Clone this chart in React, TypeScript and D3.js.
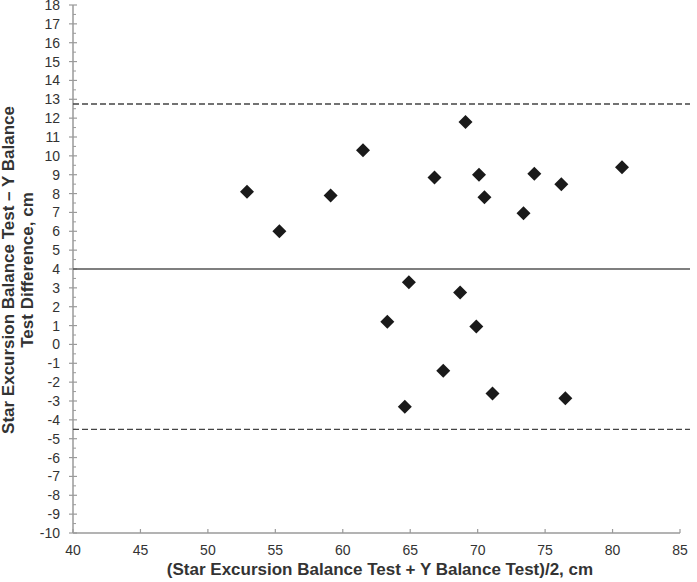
import React, { useEffect, useRef } from 'react'
import * as d3 from 'd3'

// (SEBT + YBT)/2 and SEBT - YBT, cm
const meanValues = [52.9, 55.3, 59.1, 61.5, 66.8, 69.1, 70.1, 70.5, 74.2, 76.2, 73.4, 80.7,
  64.9, 68.7, 63.3, 69.9, 67.45, 71.1, 76.5, 64.6]
const diffValues = [8.1, 6.0, 7.9, 10.3, 8.85, 11.8, 9.0, 7.8, 9.05, 8.5, 6.95, 9.4,
  3.3, 2.75, 1.2, 0.95, -1.4, -2.6, -2.85, -3.3]

const meanDiff = 4
const upperLimit = 12.75
const lowerLimit = -4.5

const xTicks = [40, 45, 50, 55, 60, 65, 70, 75, 80, 85]
const yTicks = d3.range(-10, 19, 1)
const yMinorTicks = d3.range(-9.5, 18, 1)

const W = 697, H = 582
const font = '"Liberation Sans", Arial, sans-serif'

export default function App() {
  const ref = useRef<SVGSVGElement>(null)

  useEffect(() => {
    const svg = d3.select(ref.current)
    svg.selectAll('*').remove()

    const x = d3.scaleLinear().domain([40, 85]).range([73, 680])
    const y = d3.scaleLinear().domain([-10, 18]).range([533, 5])
    const axisColor = '#9a9a9a'

    // y axis
    const gy = svg.append('g')
    gy.append('line')
      .attr('x1', x(40)).attr('x2', x(40))
      .attr('y1', y(-10)).attr('y2', y(18))
      .attr('stroke', axisColor).attr('stroke-width', 1.5)
    gy.selectAll('line.major').data(yTicks).join('line')
      .attr('class', 'major')
      .attr('x1', x(40) - 4).attr('x2', x(40) + 4)
      .attr('y1', d => y(d)).attr('y2', d => y(d))
      .attr('stroke', axisColor).attr('stroke-width', 1.2)
    gy.selectAll('line.minor').data(yMinorTicks).join('line')
      .attr('class', 'minor')
      .attr('x1', x(40)).attr('x2', x(40) + 3)
      .attr('y1', d => y(d)).attr('y2', d => y(d))
      .attr('stroke', axisColor).attr('stroke-width', 1)
    gy.selectAll('text').data(yTicks).join('text')
      .attr('x', 60).attr('y', d => y(d))
      .attr('dy', '0.36em')
      .attr('text-anchor', 'end')
      .attr('font-family', font).attr('font-size', 14)
      .attr('fill', '#333')
      .text(d => d)

    // x axis
    const gx = svg.append('g')
    gx.append('line')
      .attr('x1', x(40)).attr('x2', x(85))
      .attr('y1', y(-10)).attr('y2', y(-10))
      .attr('stroke', axisColor).attr('stroke-width', 1.5)
    gx.selectAll('line.tick').data(xTicks).join('line')
      .attr('class', 'tick')
      .attr('x1', d => x(d)).attr('x2', d => x(d))
      .attr('y1', y(-10)).attr('y2', y(-10) - 4)
      .attr('stroke', axisColor).attr('stroke-width', 1.2)
    gx.selectAll('text').data(xTicks).join('text')
      .attr('x', d => x(d)).attr('y', 555)
      .attr('text-anchor', 'middle')
      .attr('font-family', font).attr('font-size', 14)
      .attr('fill', '#333')
      .text(d => d)

    // reference lines
    const lines = [
      { v: meanDiff, dash: null, color: '#555' },
      { v: upperLimit, dash: '6,3', color: '#444' },
      { v: lowerLimit, dash: '6,3', color: '#444' },
    ]
    svg.append('g').selectAll('line').data(lines).join('line')
      .attr('x1', x(40)).attr('x2', 690)
      .attr('y1', d => y(d.v)).attr('y2', d => y(d.v))
      .attr('stroke', d => d.color).attr('stroke-width', 1.3)
      .attr('stroke-dasharray', d => d.dash)

    // points
    const pts = meanValues.map((m, i) => ({ m, d: diffValues[i] }))
    const r = 7
    svg.append('g').selectAll('path').data(pts).join('path')
      .attr('transform', p => `translate(${x(p.m)},${y(p.d)})`)
      .attr('d', `M0,${-r}L${r},0L0,${r}L${-r},0Z`)
      .attr('fill', '#1a1a1a')

    // axis titles
    svg.append('text')
      .attr('x', 380).attr('y', 575)
      .attr('text-anchor', 'middle')
      .attr('font-family', font).attr('font-size', 17).attr('font-weight', 'bold')
      .attr('fill', '#333')
      .text('(Star Excursion Balance Test + Y Balance Test)/2, cm')

    const yl = svg.append('text')
      .attr('transform', 'rotate(-90)')
      .attr('text-anchor', 'middle')
      .attr('font-family', font).attr('font-size', 17).attr('font-weight', 'bold')
      .attr('fill', '#333')
    yl.append('tspan').attr('x', -270).attr('y', 14)
      .text('Star Excursion Balance Test – Y Balance')
    yl.append('tspan').attr('x', -270).attr('y', 33)
      .text('Test Difference, cm')
  }, [])

  return (
    <svg ref={ref} width={W} height={H}
      style={{ position: 'absolute', left: 0, top: 0, background: '#fff' }} />
  )
}
